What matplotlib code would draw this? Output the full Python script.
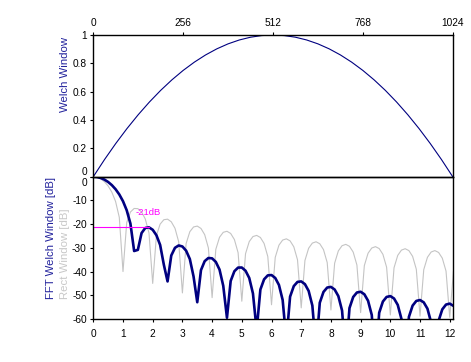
import numpy as np
import matplotlib
matplotlib.use('Agg')
import matplotlib.pyplot as plt
from matplotlib.transforms import offset_copy

plt.rcParams['font.family'] = ['Liberation Sans', 'DejaVu Sans']
plt.rcParams['axes.unicode_minus'] = False

# Welch window samples (top panel), n = 0..1024 in steps of 32
sample_n = [0, 32, 64, 96, 128, 160, 192, 224, 256, 288, 320, 352, 384, 416, 448, 480, 512,
            544, 576, 608, 640, 672, 704, 736, 768, 800, 832, 864, 896, 928, 960, 992, 1024]
welch_win = [0.0, 0.12109, 0.23438, 0.33984, 0.4375, 0.52734, 0.60938, 0.68359, 0.75,
             0.80859, 0.85938, 0.90234, 0.9375, 0.96484, 0.98438, 0.99609, 1.0,
             0.99609, 0.98438, 0.96484, 0.9375, 0.90234, 0.85938, 0.80859, 0.75,
             0.68359, 0.60938, 0.52734, 0.4375, 0.33984, 0.23438, 0.12109, 0.0]

# spectrum bins (bottom panel)
freq_bin = [0.0, 0.125, 0.25, 0.375, 0.5, 0.625, 0.75, 0.875,
            1.0, 1.125, 1.25, 1.375, 1.5, 1.625, 1.75, 1.875,
            2.0, 2.125, 2.25, 2.375, 2.5, 2.625, 2.75, 2.875,
            3.0, 3.125, 3.25, 3.375, 3.5, 3.625, 3.75, 3.875,
            4.0, 4.125, 4.25, 4.375, 4.5, 4.625, 4.75, 4.875,
            5.0, 5.125, 5.25, 5.375, 5.5, 5.625, 5.75, 5.875,
            6.0, 6.125, 6.25, 6.375, 6.5, 6.625, 6.75, 6.875,
            7.0, 7.125, 7.25, 7.375, 7.5, 7.625, 7.75, 7.875,
            8.0, 8.125, 8.25, 8.375, 8.5, 8.625, 8.75, 8.875,
            9.0, 9.125, 9.25, 9.375, 9.5, 9.625, 9.75, 9.875,
            10.0, 10.125, 10.25, 10.375, 10.5, 10.625, 10.75, 10.875,
            11.0, 11.125, 11.25, 11.375, 11.5, 11.625, 11.75, 11.875,
            12.0, 12.125]

welch_db = [0.00, -0.13, -0.54, -1.23, -2.23, -3.56, -5.28, -7.49,
            -10.34, -14.16, -19.78, -31.33, -30.85, -23.76, -21.62, -21.36,
            -22.38, -24.68, -28.77, -37.11, -44.16, -33.22, -29.98, -28.99,
            -29.43, -31.20, -34.72, -42.06, -52.93, -39.39, -35.61, -34.27,
            -34.43, -35.93, -39.17, -46.00, -59.48, -43.96, -39.86, -38.32,
            -38.30, -39.65, -42.70, -49.24, -64.70, -47.58, -43.27, -41.60,
            -41.47, -42.70, -45.64, -51.98, -69.06, -50.58, -46.13, -44.36,
            -44.15, -45.31, -48.16, -54.35, -72.79, -53.14, -48.58, -46.74,
            -46.47, -47.57, -50.35, -56.44, -76.05, -55.38, -50.72, -48.83,
            -48.51, -49.57, -52.30, -58.31, -78.95, -57.36, -52.63, -50.70,
            -50.34, -51.36, -54.06, -60.00, -81.56, -59.13, -54.36, -52.38,
            -52.00, -52.99, -55.65, -61.53, -83.93, -60.75, -55.92, -53.92,
            -53.51, -54.47]

rect_db = [0.00, -0.22, -0.91, -2.11, -3.92, -6.55, -10.45, -17.13,
           -40.0, -19.31, -14.89, -13.40, -13.47, -14.85, -17.81, -23.75,
           -45.0, -24.83, -20.00, -18.14, -17.90, -19.01, -21.74, -27.46,
           -49.0, -28.18, -23.19, -21.20, -20.82, -21.82, -24.43, -30.05,
           -51.0, -30.60, -25.52, -23.45, -23.01, -23.93, -26.49, -32.05,
           -52.5, -32.48, -27.36, -25.24, -24.75, -25.63, -28.15, -33.67,
           -54.0, -34.03, -28.87, -26.72, -26.20, -27.05, -29.54, -35.03,
           -55.3, -35.34, -30.16, -27.99, -27.44, -28.28, -30.74, -36.21,
           -56.2, -36.48, -31.28, -29.09, -28.53, -29.35, -31.79, -37.25,
           -57.3, -37.49, -32.28, -30.07, -29.50, -30.30, -32.73, -38.18,
           -58.3, -38.39, -33.17, -30.95, -30.37, -31.16, -33.58, -39.02,
           -58.8, -39.21, -33.98, -31.75, -31.16, -31.94, -34.35, -39.78,
           -59.3, -39.96]

sidelobe_f = [0.0, 1.86]
sidelobe_db = -21

top_ticks = [0, 256, 512, 768, 1024]
top_yticks = [0, 0.2, 0.4, 0.6, 0.8, 1]
top_ylabels = ['', '0.2', '0.4', '0.6', '0.8', '1']
bot_xticks = list(range(13))
bot_yticks = [-60, -50, -40, -30, -20, -10, 0]
bot_ylabels = ['-60', '-50', '-40', '-30', '-20', '-10', '']

navy = '#000080'
label_blue = '#22229c'
grey = '#c4c4c4'
magenta = '#ff00ff'
tick_fs = 7.3
label_fs = 8.2

fig = plt.figure(figsize=(4.71, 3.62), dpi=100)
W, H = 471, 362
left, right = 93.3 / W, 452.7 / W
ax_bot = fig.add_axes([left, 1 - 319 / H, right - left, (319 - 176.7) / H])
ax_top = fig.add_axes([left, 1 - 176.7 / H, right - left, (176.7 - 35) / H])
ax_top.patch.set_visible(False)

# top panel: the window itself
ax_top.plot(sample_n, welch_win, color=navy, lw=0.8)
ax_top.set_xlim(0, 1024)
ax_top.set_ylim(0, 1)
ax_top.xaxis.tick_top()
ax_top.set_xticks(top_ticks)
ax_top.set_yticks(top_yticks)
ax_top.set_yticklabels(top_ylabels)
ax_top.tick_params(axis='x', direction='out', length=2.5, width=0.8, pad=2.5, labelsize=tick_fs)
ax_top.tick_params(axis='y', direction='out', length=2.5, width=0.8, pad=2.2, labelsize=tick_fs)
ax_top.text(0, 0, '0', fontsize=tick_fs, ha='right', va='center',
            transform=offset_copy(ax_top.get_yaxis_transform(), fig, x=-6, y=5, units='dots'))

# bottom panel: spectra in dB
ax_bot.plot(freq_bin, rect_db, color=grey, lw=0.8)
ax_bot.plot(freq_bin, welch_db, color=navy, lw=1.9)
ax_bot.plot(sidelobe_f, [sidelobe_db, sidelobe_db], color=magenta, lw=0.8)
ax_bot.text(1.43, -15.2, '-21dB', color=magenta, fontsize=6.8, ha='left', va='center')
ax_bot.set_xlim(0, 12.1)
ax_bot.set_ylim(-60, 0)
ax_bot.set_xticks(bot_xticks)
ax_bot.set_yticks(bot_yticks)
ax_bot.set_yticklabels(bot_ylabels)
ax_bot.tick_params(axis='x', direction='out', length=2.5, width=0.8, pad=4.5, labelsize=tick_fs)
ax_bot.tick_params(axis='y', direction='out', length=2.5, width=0.8, pad=2.2, labelsize=tick_fs)
ax_bot.text(0, 0, '0', fontsize=tick_fs, ha='right', va='center',
            transform=offset_copy(ax_bot.get_yaxis_transform(), fig, x=-6, y=-6.6, units='dots'))

for ax in (ax_top, ax_bot):
    for sp in ax.spines.values():
        sp.set_linewidth(1.0)
        sp.set_color('black')

fig.text(65 / W, 1 - 36.7 / H, 'Welch Window', rotation=90, color=label_blue,
         fontsize=label_fs, ha='center', va='top')
fig.text(51 / W, 1 - 299.3 / H, 'FFT Welch Window [dB]', rotation=90, color=label_blue,
         fontsize=label_fs, ha='center', va='bottom')
fig.text(65 / W, 1 - 299.3 / H, 'Rect Window [dB]', rotation=90, color='#c8c8c8',
         fontsize=label_fs, ha='center', va='bottom')

fig.savefig('out.png', dpi=100)
